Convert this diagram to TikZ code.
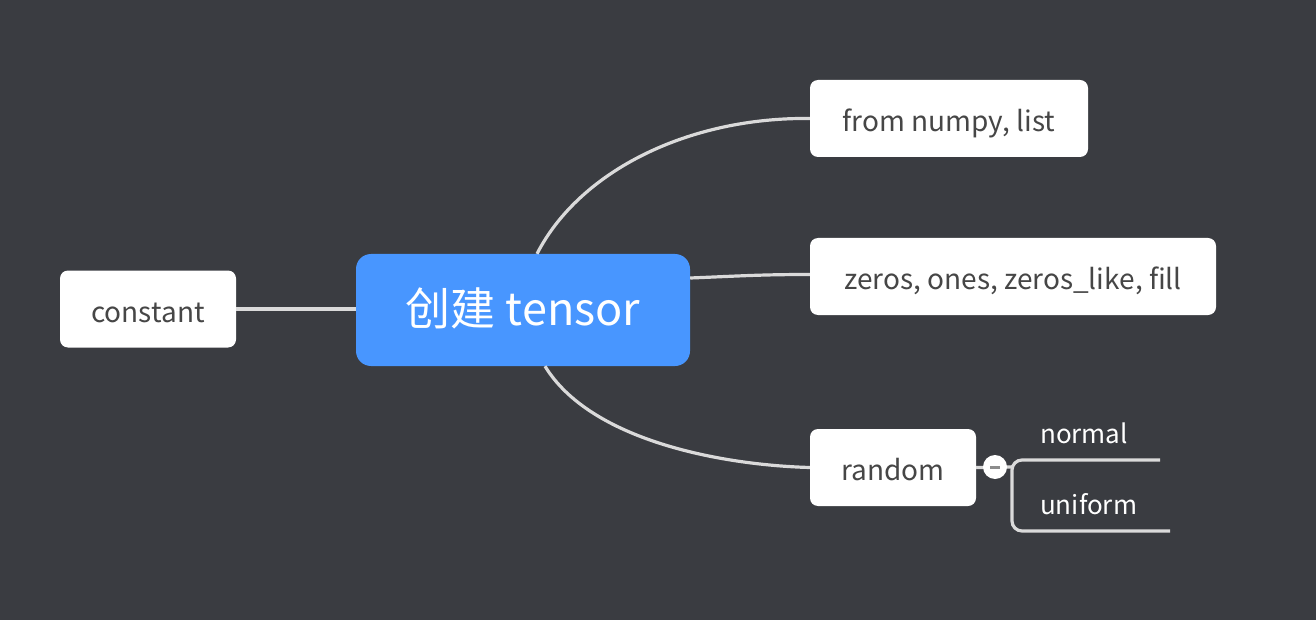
\documentclass[tikz,border=0pt]{standalone}
\usepackage{fontspec}
\setmainfont{Noto Sans CJK SC}
\definecolor{bg}{RGB}{58,60,65}
\definecolor{mainblue}{RGB}{72,150,255}
\definecolor{linec}{RGB}{218,218,218}
\definecolor{txt}{RGB}{70,70,70}
\definecolor{minusc}{RGB}{140,140,140}
\tikzset{
  leaf/.style={fill=white, rounded corners=8pt, text=txt, font=\fontsize{28}{32}\selectfont, minimum height=77pt, inner sep=0pt, text height=26pt, text depth=0pt},
  root/.style={fill=mainblue, rounded corners=15pt, text=white, font=\fontsize{45}{50}\selectfont, minimum width=334pt, minimum height=112pt, inner sep=0pt, text height=30pt, text depth=0pt},
  conn/.style={draw=linec, line width=3.2pt},
  sublabel/.style={text=white, font=\fontsize{26}{30}\selectfont, inner sep=0pt}
}
\begin{document}
\begin{tikzpicture}[x=1pt,y=-1pt]
\fill[bg] (0,0) rectangle (1316,620);
\useasboundingbox (0,0) rectangle (1316,620);
\node[root] (c) at (523,310) {创建 tensor};
\node[leaf, minimum width=176pt] (k) at (148,309) {constant};
\node[leaf, minimum width=278pt] (f) at (949,118.5) {from numpy, list};
\node[leaf, minimum width=406pt] (z) at (1013,276.5) {zeros, ones, zeros\_like, fill};
\node[leaf, minimum width=166pt] (r) at (893,467.5) {random};
\draw[conn] (k.east) -- (k.east -| c.west);
\draw[conn] ([xshift=14pt]c.north) .. controls (580,170) and (690,117) .. (f.west);
\draw[conn] ([yshift=32pt]c.east) .. controls (740,276) and (760,274.5) .. ([yshift=2pt]z.west);
\draw[conn] ([xshift=22pt]c.south) .. controls (590,440) and (720,465) .. (r.west);
\coordinate (br) at (1012,467);
\coordinate (ne) at (1160,460);
\coordinate (ue) at (1170,531);
\draw[conn] (r.east) -- (br);
\draw[conn, rounded corners=10pt] (ne) -| (1012,531) -- (ue);
\node[circle, fill=white, minimum size=24pt, inner sep=0pt] (m) at (995,467) {};
\draw[minusc, line width=3pt] ([xshift=-5pt]m.center) -- ([xshift=5pt]m.center);
\node[sublabel, anchor=base west] (nl) at (1040,443) {normal};
\node[sublabel, anchor=base west] (ul) at (1040,514) {uniform};
\end{tikzpicture}
\end{document}
